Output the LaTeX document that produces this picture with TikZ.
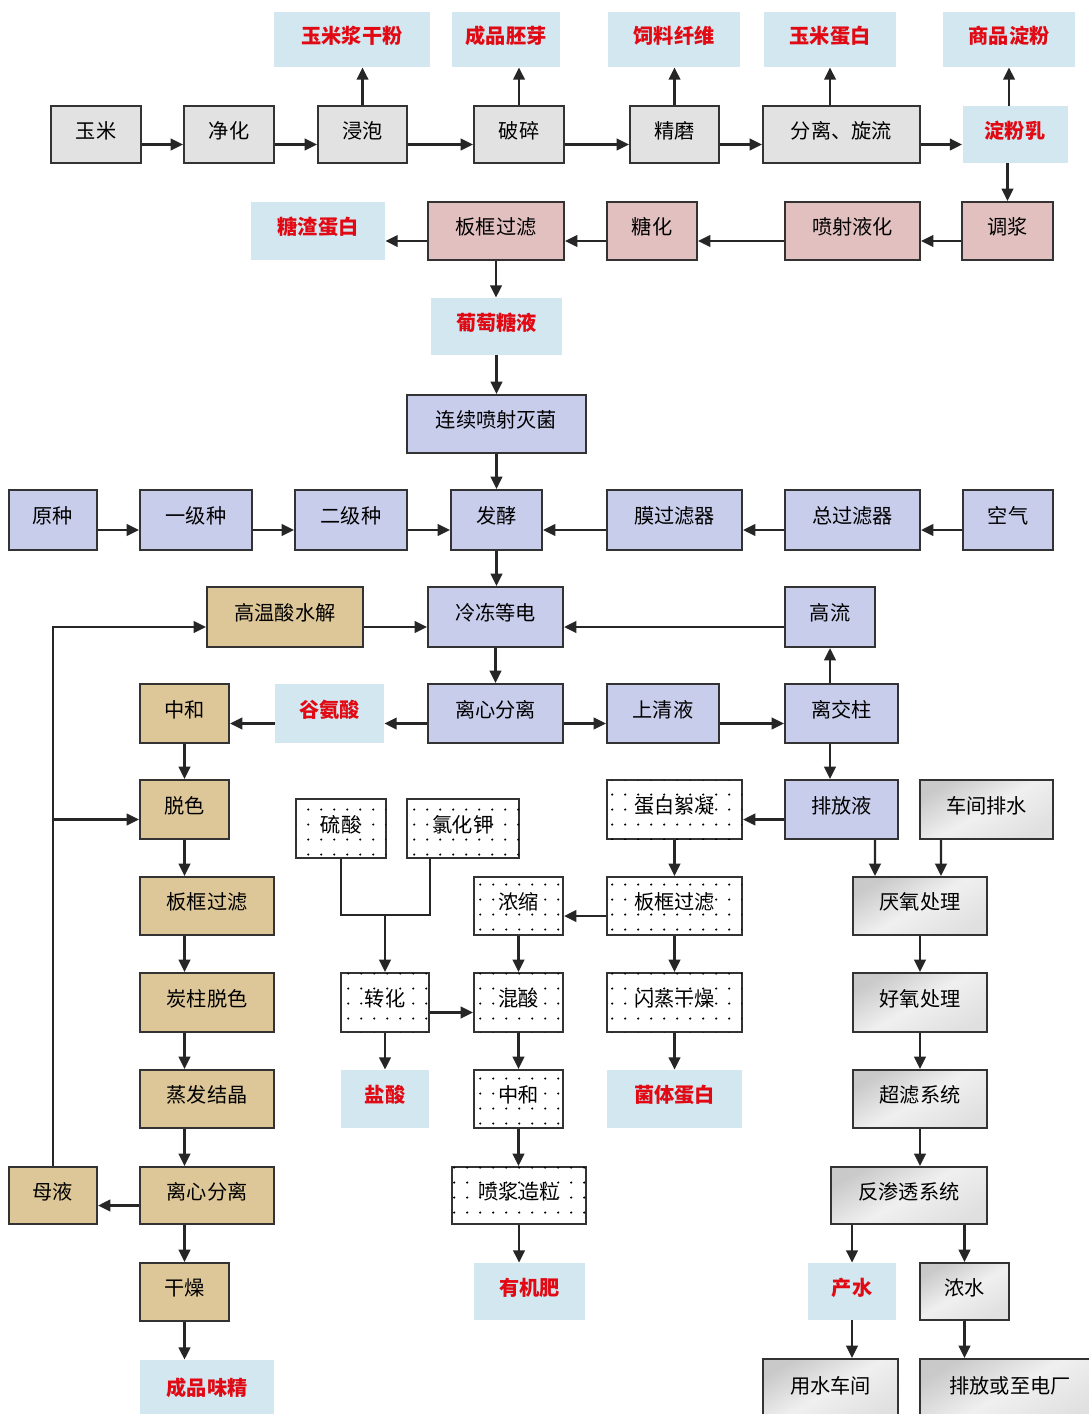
\documentclass[tikz,border=0pt]{standalone}
\usepackage{fontspec}
\setmainfont{Noto Sans CJK SC}
\usepackage{tikz}
\usetikzlibrary{arrows.meta,patterns}
\pgfdeclarepatternformonly{sparsedots}{\pgfpointorigin}{\pgfpoint{7.5pt}{8.5pt}}{\pgfpoint{7.5pt}{8.5pt}}{\pgfpathcircle{\pgfpoint{3.75pt}{4.25pt}}{0.7pt}\pgfusepath{fill}}
\definecolor{rowgray}{RGB}{226,226,226}
\definecolor{rowpink}{RGB}{226,192,192}
\definecolor{rowblue}{RGB}{201,205,236}
\definecolor{rowtan}{RGB}{221,199,152}
\definecolor{prodblue}{RGB}{210,231,239}
\definecolor{prodred}{RGB}{225,10,20}
\tikzset{
  sz/.style 2 args={minimum width=#1*0.02cm,minimum height=#2*0.02cm},
  lo/.style={yshift=-0.2cm},
  box/.style={draw=black!80,line width=1.2pt,font=\fontsize{11.5}{13}\selectfont,text height=9pt,text depth=5pt},
  gbox/.style={box,fill=rowgray},
  pbox/.style={box,fill=rowpink},
  bbox/.style={box,fill=rowblue},
  tbox/.style={box,fill=rowtan},
  dbox/.style={box,fill=white,postaction={pattern=sparsedots}},
  mbox/.style={box,top color=gray!42,bottom color=gray!24,middle color=gray!12,shading angle=30},
  prod/.style={fill=prodblue,text=prodred,font=\fontsize{11.5}{13}\selectfont\bfseries,text height=9pt,text depth=5pt},
  arr/.style={draw=black!85,line width=1.4pt,-{Triangle[length=7pt,width=6.5pt]}},
  line/.style={draw=black!85,line width=1.4pt}
}
\begin{document}
\begin{tikzpicture}[x=0.02cm,y=-0.02cm]
\tikzstyle{every node}+=[inner sep=0pt]
\useasboundingbox (0,0) rectangle (1089,1414);
\fill[white] (0,0) rectangle (1089,1414);
\node[prod,sz={156}{55}] (p1) at (352,39.5) {玉米浆干粉};
\node[prod,sz={108}{55}] (p2) at (506,39.5) {成品胚芽};
\node[prod,sz={132}{55}] (p3) at (674,39.5) {饲料纤维};
\node[prod,sz={132}{55}] (p4) at (830,39.5) {玉米蛋白};
\node[prod,sz={132}{55}] (p5) at (1009,39.5) {商品淀粉};
\node[gbox,sz={90}{57}] (ym) at (96,134.5) {玉米};
\node[gbox,sz={90}{57}] (jh) at (229,134.5) {净化};
\node[gbox,sz={89}{57}] (jp) at (362.5,134.5) {浸泡};
\node[gbox,sz={90}{57}] (ps) at (519,134.5) {破碎};
\node[gbox,sz={89}{57}] (jm) at (674.5,134.5) {精磨};
\node[gbox,sz={157}{57}] (flxl) at (841.5,134.5) {分离、旋流};
\node[prod,sz={105}{57}] (dfr) at (1015,134.5) {淀粉乳};
\node[pbox,sz={91}{58}] (tj) at (1007.5,231) {调浆};
\node[pbox,sz={135}{58}] (pshy) at (852.5,231) {喷射液化};
\node[pbox,sz={90}{58}] (th) at (652,231) {糖化};
\node[pbox,sz={136}{58}] (bk1) at (496,231) {板框过滤};
\node[prod,sz={134}{58}] (tz) at (318,231) {糖渣蛋白};
\node[prod,sz={131}{57}] (ptt) at (496.5,326.5) {葡萄糖液};
\node[bbox,sz={179}{58}] (mj) at (496.5,424) {连续喷射灭菌};
\node[bbox,sz={91}{60}] (fj) at (496.5,520) {发酵};
\node[bbox,sz={88}{60}] (yz) at (53,520) {原种};
\node[bbox,sz={112}{60}] (yjz) at (196,520) {一级种};
\node[bbox,sz={112}{60}] (ejz) at (351,520) {二级种};
\node[bbox,sz={135}{60}] (mglq) at (674.5,520) {膜过滤器};
\node[bbox,sz={135}{60}] (zglq) at (852.5,520) {总过滤器};
\node[bbox,sz={90}{60}] (kq) at (1008,520) {空气};
\node[bbox,sz={135}{60}] (ldd) at (495.5,617) {冷冻等电};
\node[tbox,sz={156}{60}] (gwsj) at (285,617) {高温酸水解};
\node[bbox,sz={90}{60}] (gl) at (830,617) {高流};
\node[tbox,sz={89}{59}] (zh1) at (184.5,713.5) {中和};
\node[prod,sz={109}{59}] (gas) at (329.5,713.5) {谷氨酸};
\node[bbox,sz={135}{59}] (lx1) at (495.5,713.5) {离心分离};
\node[bbox,sz={112}{59}] (sqy) at (663,713.5) {上清液};
\node[bbox,sz={113}{59}] (ljz) at (841.5,713.5) {离交柱};
\node[tbox,sz={89}{59}] (ts) at (184.5,809.5) {脱色};
\node[dbox,sz={90}{59}] (ls) at (341,828.5) {硫酸};
\node[dbox,sz={112}{59}] (lhj) at (463,828.5) {氯化钾};
\node[dbox,sz={135}{59}] (dbxn) at (674.5,809.5) {蛋白絮凝};
\node[bbox,sz={113}{59}] (pfy) at (841.5,809.5) {排放液};
\node[mbox,sz={133}{59}] (cjps) at (986.5,809.5) {车间排水};
\node[tbox,sz={134}{58}] (bk2) at (207,906) {板框过滤};
\node[dbox,sz={89}{58}] (ns) at (518.5,906) {浓缩};
\node[dbox,sz={135}{58}] (bk3) at (674.5,906) {板框过滤};
\node[mbox,sz={134}{58}] (yy) at (920,906) {厌氧处理};
\node[tbox,sz={134}{59}] (tzts) at (207,1002.5) {炭柱脱色};
\node[dbox,sz={88}{59}] (zhh) at (385,1002.5) {转化};
\node[dbox,sz={89}{59}] (hs) at (518.5,1002.5) {混酸};
\node[dbox,sz={135}{59}] (szgz) at (674.5,1002.5) {闪蒸干燥};
\node[mbox,sz={134}{59}] (hy) at (920,1002.5) {好氧处理};
\node[tbox,sz={134}{58}] (zfjj) at (207,1099) {蒸发结晶};
\node[prod,sz={88}{58}] (yans) at (385,1099) {盐酸};
\node[dbox,sz={89}{58}] (zh2) at (518.5,1099) {中和};
\node[prod,sz={135}{58}] (jtdb) at (674.5,1099) {菌体蛋白};
\node[mbox,sz={134}{58}] (clxt) at (920,1099) {超滤系统};
\node[tbox,sz={88}{57}] (my) at (53,1195.5) {母液};
\node[tbox,sz={134}{57}] (lx2) at (207,1195.5) {离心分离};
\node[dbox,sz={134}{57}] (pjzl) at (519,1195.5) {喷浆造粒};
\node[mbox,sz={156}{57}] (fst) at (909,1195.5) {反渗透系统};
\node[tbox,sz={89}{58}] (gz) at (184.5,1292) {干燥};
\node[prod,sz={111}{57}] (yjf) at (529.5,1291.5) {有机肥};
\node[prod,sz={88}{57}] (cs) at (852,1291.5) {产水};
\node[mbox,sz={89}{57}] (nsh) at (964.5,1291.5) {浓水};
\node[prod,sz={134}{64}] (cpwj) at (207,1392) {成品味精};
\node[mbox,sz={135}{62}] (ysh) at (830.5,1390) {用水车间};
\node[mbox,sz={180}{62}] (pfdc) at (1010,1390) {排放或至电厂};
\draw[arr] ([lo]ym.east) -- ([lo]jh.west);
\draw[arr] ([lo]jh.east) -- ([lo]jp.west);
\draw[arr] ([lo]jp.east) -- ([lo]ps.west);
\draw[arr] ([lo]ps.east) -- ([lo]jm.west);
\draw[arr] ([lo]jm.east) -- ([lo]flxl.west);
\draw[arr] ([lo]flxl.east) -- ([lo]dfr.west);
\draw[arr] (jp.north) -- (jp.north |- p1.south);
\draw[arr] (ps.north) -- (ps.north |- p2.south);
\draw[arr] (jm.north) -- (jm.north |- p3.south);
\draw[arr] (p4.south |- flxl.north) -- (p4.south);
\draw[arr] (p5.south |- dfr.north) -- (p5.south);
\draw[arr] (tj.north |- dfr.south) -- (tj.north);
\draw[arr] ([lo]tj.west) -- ([lo]pshy.east);
\draw[arr] ([lo]pshy.west) -- ([lo]th.east);
\draw[arr] ([lo]th.west) -- ([lo]bk1.east);
\draw[arr] ([lo]bk1.west) -- ([lo]tz.east);
\draw[arr] (bk1.south) -- (bk1.south |- ptt.north);
\draw[arr] (ptt.south) -- (mj.north);
\draw[arr] (mj.south) -- (fj.north);
\draw[arr] ([lo]yz.east) -- ([lo]yjz.west);
\draw[arr] ([lo]yjz.east) -- ([lo]ejz.west);
\draw[arr] ([lo]ejz.east) -- ([lo]fj.west);
\draw[arr] ([lo]kq.west) -- ([lo]zglq.east);
\draw[arr] ([lo]zglq.west) -- ([lo]mglq.east);
\draw[arr] ([lo]mglq.west) -- ([lo]fj.east);
\draw[arr] (fj.south) -- (fj.south |- ldd.north);
\draw[arr] ([lo]gwsj.east) -- ([lo]ldd.west);
\draw[arr] ([lo]gl.west) -- ([lo]ldd.east);
\draw[arr] (ldd.south) -- (lx1.north);
\draw[arr] ([lo]lx1.west) -- ([lo]gas.east);
\draw[arr] ([lo]gas.west) -- ([lo]zh1.east);
\draw[arr] ([lo]lx1.east) -- ([lo]sqy.west);
\draw[arr] ([lo]sqy.east) -- ([lo]ljz.west);
\draw[arr] (ljz.north -| gl.south) -- (gl.south);
\draw[arr] (ljz.south -| gl.south) -- (pfy.north -| gl.south);
\draw[arr] ([lo]pfy.west) -- ([lo]dbxn.east);
\draw[arr] (dbxn.south) -- (bk3.north);
\draw[arr] ([lo]bk3.west) -- ([lo]ns.east);
\draw[arr] (bk3.south) -- (szgz.north);
\draw[arr] (szgz.south) -- (jtdb.north);
\draw[arr] ([xshift=0.67cm]pfy.south) -- ([xshift=-0.9cm]yy.north);
\draw[arr] ([xshift=-0.91cm]cjps.south) -- ([xshift=0.42cm]yy.north);
\draw[arr] (yy.south) -- (hy.north);
\draw[arr] (hy.south) -- (clxt.north);
\draw[arr] (clxt.south) -- (clxt.south |- fst.north);
\draw[arr] (cs.north |- fst.south) -- (cs.north);
\draw[arr] (nsh.north |- fst.south) -- (nsh.north);
\draw[arr] (cs.south) -- (cs.south |- ysh.north);
\draw[arr] (nsh.south) -- (nsh.south |- pfdc.north);
\draw[arr] (zh1.south) -- (ts.north);
\draw[arr] (ts.south) -- (ts.south |- bk2.north);
\draw[arr] (bk2.south -| zh1) -- (tzts.north -| zh1);
\draw[arr] (tzts.south -| zh1) -- (zfjj.north -| zh1);
\draw[arr] (zfjj.south -| zh1) -- (lx2.north -| zh1);
\draw[arr] (lx2.south -| gz) -- (gz.north);
\draw[arr] (gz.south) -- (gz.south |- cpwj.north);
\draw[arr] ([lo]lx2.west) -- ([lo]my.east);
\draw[arr] (my.north) |- ([lo]gwsj.west);
\path ([lo]ts.west) coordinate (tsin);
\draw[arr] (my.north |- tsin) -- (tsin);
\coordinate (jn) at (385,915);
\draw[line] (ls.south) |- (jn) -- (zhh.north east |- jn) -- (zhh.north east |- lhj.south);
\draw[arr] (jn) -- (zhh.north);
\draw[arr] ([lo]zhh.east) -- ([lo]hs.west);
\draw[arr] (zhh.south) -- (yans.north);
\draw[arr] (ns.south) -- (hs.north);
\draw[arr] (hs.south) -- (zh2.north);
\draw[arr] (zh2.south) -- (zh2.south |- pjzl.north);
\draw[arr] (pjzl.south) -- (pjzl.south |- yjf.north);
\end{tikzpicture}
\end{document}
